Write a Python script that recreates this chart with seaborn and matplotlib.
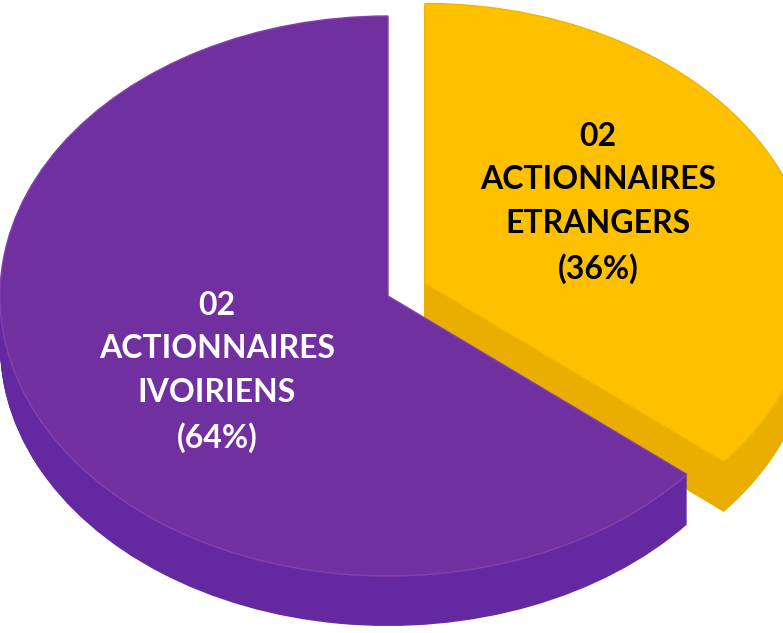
import numpy as np
import matplotlib.pyplot as plt
import seaborn as sns

# shareholder split
groups = ["ETRANGERS", "IVOIRIENS"]
counts = ["02", "02"]
shares = [36, 64]
explode = [0.105, 0]

top_colors = ["#FFC000", "#7030A0"]
side_colors = ["#E9AE00", "#6429A0"]
edge_colors = ["#F0B400", "#8640AC"]
text_colors = ["black", "white"]

sns.set_theme(style="white")
plt.rcParams['font.family'] = ['Lato', 'DejaVu Sans']

W, H = 783, 633
fig = plt.figure(figsize=(W / 100, H / 100), dpi=100)
ax = fig.add_axes([0, 0, 1, 1])

# pixel geometry of the tilted pie (ellipse radii and centre)
rx, ry = 388, 280
cx, cy = 388, 296
depth = 50 / ry

# side walls: stack of pies pushed downwards
for dz in np.linspace(depth, 0, 60)[:-1]:
    ax.pie(shares, explode=explode, colors=side_colors, startangle=90,
           counterclock=False, center=(0, -dz), wedgeprops=dict(linewidth=0))

# top face
wedges, _ = ax.pie(shares, explode=explode, colors=top_colors, startangle=90,
                   counterclock=False, wedgeprops=dict(linewidth=1.0))
for w, ec in zip(wedges, edge_colors):
    w.set_edgecolor(ec)

ax.set_aspect('auto')
ax.set_xlim(-cx / rx, (W - cx) / rx)
ax.set_ylim(-(H - cy) / ry, cy / ry)
ax.axis('off')

label_pos = [(598, 203), (217, 372)]
for g, c, s, (px, py), tc in zip(groups, counts, shares, label_pos, text_colors):
    ax.text(px / W, 1 - py / H, f"{c}\nACTIONNAIRES\n{g}\n({s}%)",
            transform=ax.transAxes, ha='center', va='center',
            multialignment='center', color=tc, fontsize=23,
            fontweight='bold', linespacing=1.6)

fig.savefig("out.png", dpi=100, facecolor='white')
